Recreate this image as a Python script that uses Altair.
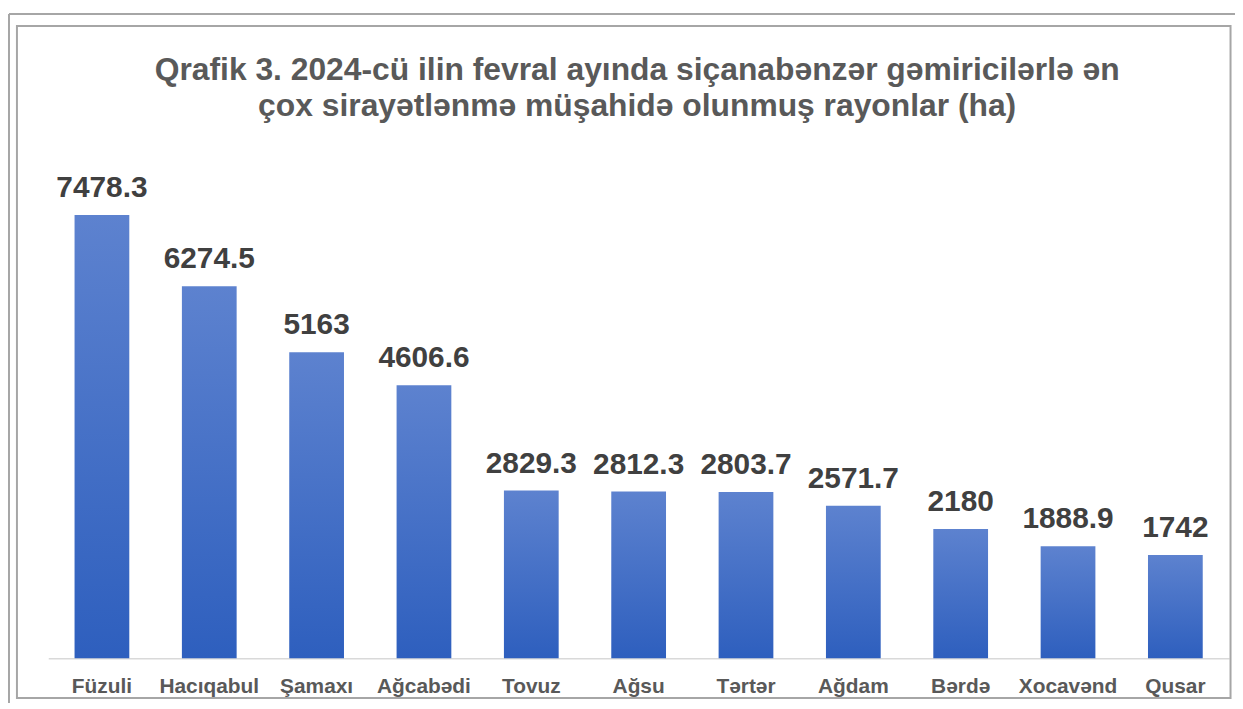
import altair as alt
import pandas as pd

districts = ["Füzuli", "Hacıqabul", "Şamaxı", "Ağcabədi", "Tovuz", "Ağsu",
             "Tərtər", "Ağdam", "Bərdə", "Xocavənd", "Qusar"]
areas = [7478.3, 6274.5, 5163, 4606.6, 2829.3, 2812.3, 2803.7, 2571.7, 2180, 1888.9, 1742]
labels = ["7478.3", "6274.5", "5163", "4606.6", "2829.3", "2812.3", "2803.7",
          "2571.7", "2180", "1888.9", "1742"]
title_lines = ["Qrafik 3. 2024-cü ilin fevral ayında siçanabənzər gəmiricilərlə ən",
               "çox sirayətlənmə müşahidə olunmuş rayonlar (ha)"]

df = pd.DataFrame({"district": districts, "area": areas, "label": labels})

FONT = "Liberation Sans"

x_enc = alt.X("district:N", sort=districts,
              scale=alt.Scale(paddingInner=0.49, paddingOuter=0.245),
              axis=alt.Axis(title=None, labelAngle=0, ticks=False, labelPadding=18,
                            labelFont=FONT, labelFontSize=21, labelFontWeight="bold",
                            labelColor="#595959", domainColor="#d9d9d9",
                            domainWidth=1.5))
y_scale = alt.Scale(domain=[0, 8000])

base = alt.Chart(df)

bars = base.mark_bar(
    color=alt.Gradient(gradient="linear", x1=0, y1=0, x2=0, y2=1,
                       stops=[alt.GradientStop(offset=0, color="#5d82cf"),
                              alt.GradientStop(offset=1, color="#2e5fbe")])
).encode(x=x_enc, y=alt.Y("area:Q", scale=y_scale, axis=None))

text = base.mark_text(font=FONT, fontSize=30, fontWeight="bold", color="#404040",
                      baseline="alphabetic", dy=-18).encode(
    x=alt.X("district:N", sort=districts), y=alt.Y("area:Q", scale=y_scale),
    text="label:N")

frame_df = pd.DataFrame({"k": [0]})
inner_frame = alt.Chart(frame_df).mark_rect(fillOpacity=0, stroke="#a6a6a6",
                                            strokeWidth=2).encode(
    x=alt.value(-31.5), x2=alt.value(1189.5), y=alt.value(-159), y2=alt.value(517))
outer_top = alt.Chart(frame_df).mark_rule(stroke="#a6a6a6", strokeWidth=2).encode(
    x=alt.value(-39.5), x2=alt.value(1195), y=alt.value(-171))
outer_left = alt.Chart(frame_df).mark_rule(stroke="#a6a6a6", strokeWidth=2).encode(
    x=alt.value(-39.5), y=alt.value(-171), y2=alt.value(530))

title_df = pd.DataFrame({"line": title_lines, "row": [0, 1]})
title1 = alt.Chart(title_df.iloc[[0]]).mark_text(
    font=FONT, fontSize=32, fontWeight="bold", color="#595959", baseline="alphabetic"
).encode(x=alt.value(592.5), y=alt.value(-105), text="line:N")
title2 = alt.Chart(title_df.iloc[[1]]).mark_text(
    font=FONT, fontSize=32, fontWeight="bold", color="#595959", baseline="alphabetic"
).encode(x=alt.value(592.5), y=alt.value(-68), text="line:N")

chart = alt.layer(inner_frame, outer_top, outer_left, title1, title2, bars, text).properties(
    width=1188, height=477,
    autosize=alt.AutoSizeParams(type="none"),
    padding={"left": 40.5, "top": 175, "right": 6, "bottom": 43},
).configure(background="white").configure_view(strokeWidth=0)

chart.save("out.html", embed_options={"renderer": "svg", "actions": False})
